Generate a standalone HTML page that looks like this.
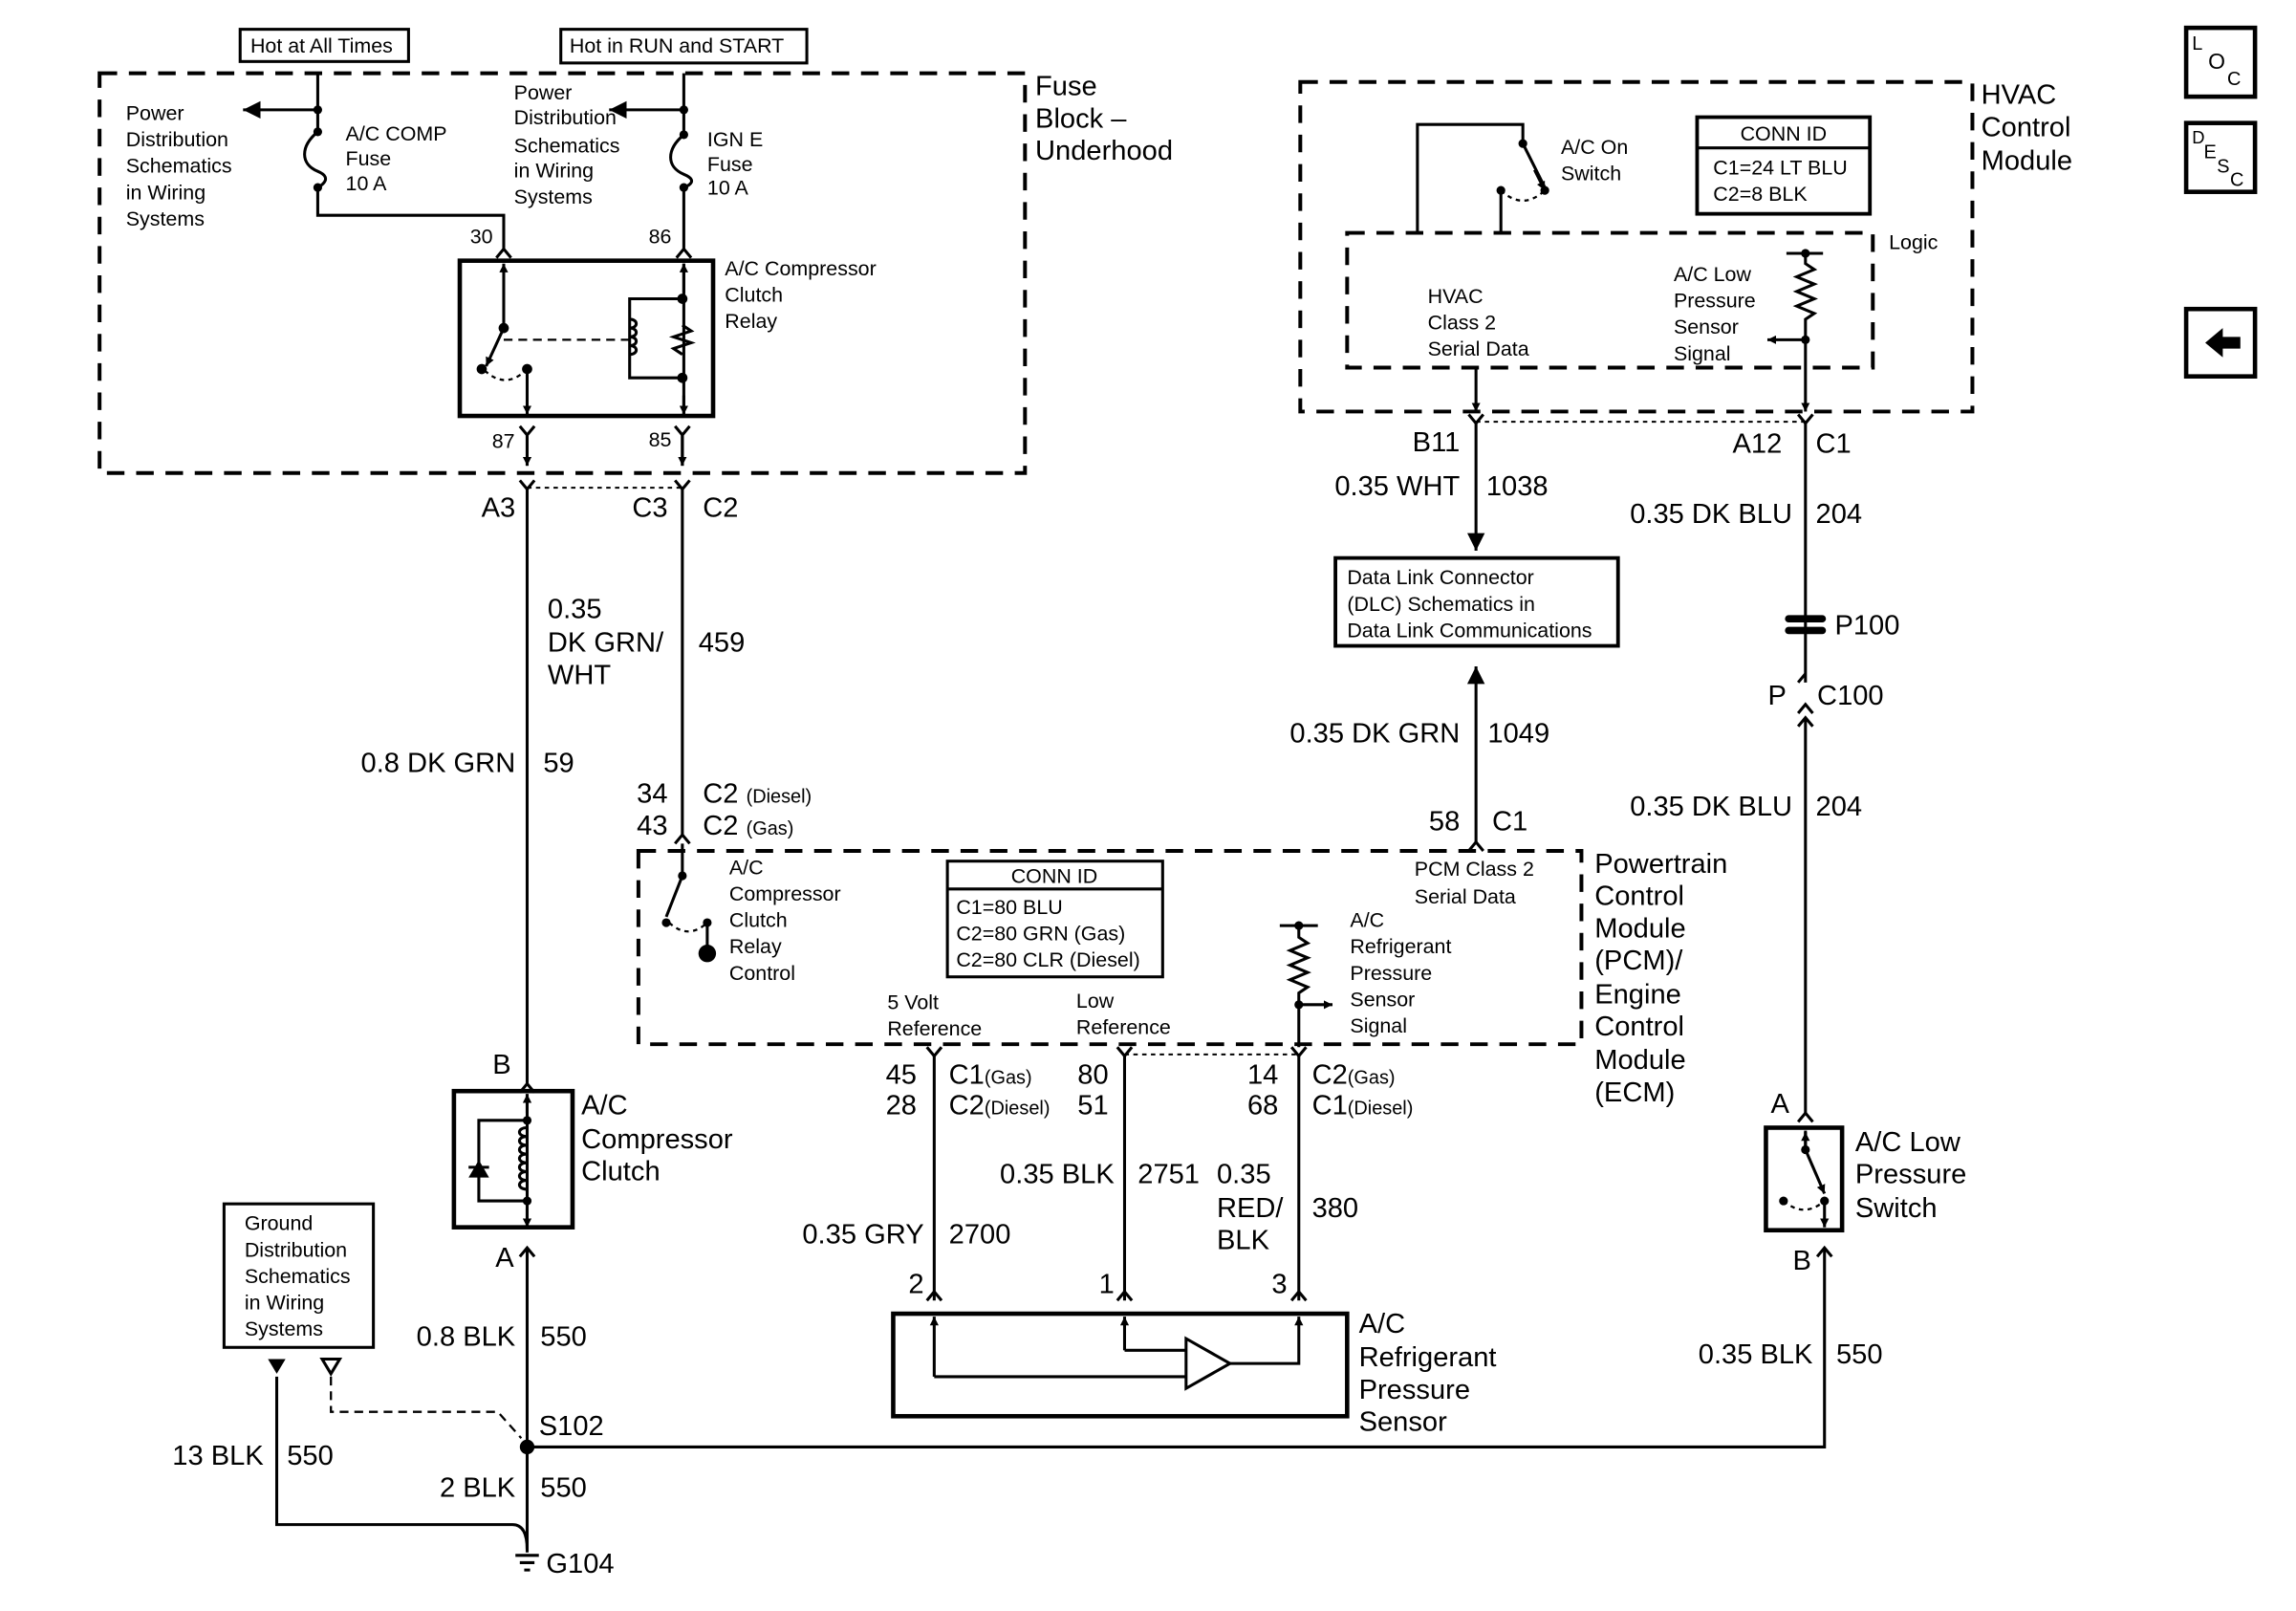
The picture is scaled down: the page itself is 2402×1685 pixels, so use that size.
<!DOCTYPE html>
<html><head><meta charset="utf-8"><style>
html,body{margin:0;padding:0;background:#fff}
svg{display:block}
text{font-family:"Liberation Sans",sans-serif;fill:#000}
.s{font-size:14px}.b{font-size:19px}.r{text-anchor:end}.c{text-anchor:middle}
</style></head><body>
<svg width="2402" height="1685" viewBox="0 0 1568 1100" preserveAspectRatio="none" xmlns="http://www.w3.org/2000/svg">
<defs>
<marker id="ah" viewBox="0 0 10 10" refX="10" refY="5" markerWidth="6" markerHeight="6" orient="auto-start-reverse" markerUnits="userSpaceOnUse"><path d="M0,0 L10,5 L0,10 z" fill="#000"/></marker>
<marker id="ab" viewBox="0 0 10 10" refX="10" refY="5" markerWidth="12" markerHeight="12" orient="auto" markerUnits="userSpaceOnUse"><path d="M0,0 L10,5 L0,10 z" fill="#000"/></marker>
</defs>
<g fill="none" stroke="#000" stroke-width="2">
<rect x="164" y="20" width="115" height="22"/>
<rect x="383" y="20" width="168" height="23"/>
<rect x="68" y="50" width="632" height="273" stroke-width="2.6" stroke-dasharray="12,8"/>
<path d="M217,50 V90 M217,128 V147 H344 V170"/>
<path d="M217,90 C205,100 205,112 217,117 C229,122 217,128 217,128"/>
<path d="M217,75 H166" marker-end="url(#ab)"/>
<path d="M467,50 V92 M467,128 V170"/>
<path d="M467,92 C455,102 455,114 467,119 C479,124 467,128 467,128"/>
<path d="M467,75 H416" marker-end="url(#ab)"/>
<path d="M339,176 L344,170 L349,176 M462,176 L467,170 L472,176"/>
<rect x="314" y="178" width="173" height="106" stroke-width="3"/>
<path d="M344,224 V180" marker-end="url(#ah)"/>
<path d="M344,224 L332,250" marker-end="url(#ah)"/>
<path d="M331,253 Q345,266 359,253" stroke-dasharray="3,3" stroke-width="1.5"/>
<path d="M360,252 V283" marker-end="url(#ah)"/>
<path d="M344,232 H430" stroke-dasharray="6,4" stroke-width="1.5"/>
<path d="M467,180 V283" /><path d="M467,200 V180" marker-end="url(#ah)"/><path d="M467,270 V283" marker-end="url(#ah)"/>
<path d="M466,204 H430 V258 H466"/>
<path d="M430,218 c6,0 6,6 0,6 c6,0 6,6 0,6 c6,0 6,6 0,6 c6,0 6,6 0,6"/>
<path d="M466,222 l6,4 l-12,4 l12,4 l-12,4 l6,4"/>
<path d="M355,291 L360,297 L365,291 M360,297 V318 M461,291 L466,297 L471,291 M466,297 V318"/>
<path d="M360,297 V318" marker-end="url(#ah)"/><path d="M466,297 V318" marker-end="url(#ah)"/>
<path d="M355,328 L360,334 L365,328 M461,328 L466,334 L471,328"/>
<path d="M360,333 H466" stroke-dasharray="3,3" stroke-width="1.3"/>
<path d="M360,334 V740 M466,334 V570"/>
<path d="M461,576 L466,570 L471,576"/>
<rect x="436" y="581" width="644" height="132" stroke-width="2.6" stroke-dasharray="12,8"/>
<path d="M466,576 V598 L455,626"/>
<path d="M457,630 Q470,642 483,630" stroke-dasharray="3,3" stroke-width="1.5"/>
<path d="M483,630 V651"/>
<rect x="647" y="588" width="147" height="79"/><path d="M647,607 H794"/>
<path d="M874,632 H900 M887,632 V640 l6,4 l-12,5 l12,5 l-12,5 l12,5 l-12,5 l12,5 l-6,4 V715"/>
<path d="M887,686 H910" marker-end="url(#ah)"/>
<path d="M1008,575 V455" marker-end="url(#ab)"/>
<path d="M1003,581 L1008,575 L1013,581"/>
<path d="M633,715 L638,721 L643,715 M763,715 L768,721 L773,715 M882,715 L887,721 L892,715"/>
<path d="M768,720 H887" stroke-dasharray="3,3" stroke-width="1.3"/>
<path d="M638,721 V888 M768,721 V888 M887,721 V888"/>
<path d="M633,888 L638,882 L643,888 M763,888 L768,882 L773,888 M882,888 L887,882 L892,888"/>
<rect x="610" y="897" width="310" height="70" stroke-width="3"/>
<path d="M638,940 V899" marker-end="url(#ah)"/><path d="M638,940 H810"/>
<path d="M768,922 V899" marker-end="url(#ah)"/><path d="M768,922 H810"/>
<path d="M810,914 V948 L840,931 Z"/>
<path d="M840,931 H887 V899" marker-end="url(#ah)"/>
<path d="M355,746 L360,740 L365,746"/>
<rect x="310" y="745" width="81" height="93" stroke-width="3"/>
<path d="M360,747 V838"/><path d="M360,760 V747" marker-end="url(#ah)"/><path d="M360,825 V838" marker-end="url(#ah)"/>
<path d="M360,765 H327 V820 H360"/>
<path d="M360,770 c-7,0 -7,6 0,6 c-7,0 -7,6 0,6 c-7,0 -7,6 0,6 c-7,0 -7,6 0,6 c-7,0 -7,6 0,6 c-7,0 -7,6 0,6 c-7,0 -7,6 0,6"/>
<path d="M320,797 H334"/>
<path d="M355,858 L360,852 L365,858 M360,852 V1060"/>
<rect x="153" y="822" width="102" height="98"/>
<path d="M189,940 V1041 H350 Q360,1041 360,1058"/>
<path d="M226,940 V964 H340 L356,982" stroke-dasharray="6,4" stroke-width="1.5"/>
<path d="M360,988 H1246 V852"/>
<path d="M1241,858 L1246,852 L1251,858"/>
<path d="M352,1062 H368 M355,1067 H365 M358,1072 H362"/>
<rect x="888" y="56" width="459" height="225" stroke-width="2.6" stroke-dasharray="12,8"/>
<rect x="920" y="159" width="359" height="92" stroke-width="2.6" stroke-dasharray="12,8"/>
<path d="M968,159 V85 H1040 V98 L1055,128" />
<path d="M1048,116 L1055,130" marker-end="url(#ah)"/>
<path d="M1025,130 Q1040,144 1055,130" stroke-dasharray="3,3" stroke-width="1.5"/>
<path d="M1025,130 V159"/>
<rect x="1159" y="80" width="118" height="66" stroke-width="2.5"/><path d="M1159,101 H1277"/>
<path d="M1220,173 H1245 M1233,173 V180 l6,4 l-12,5 l12,5 l-12,5 l12,5 l-12,5 l12,5 l-6,4 V232"/>
<path d="M1233,232 H1207" marker-end="url(#ah)"/>
<path d="M1233,232 V281" marker-end="url(#ah)"/>
<path d="M1008,251 V281" marker-end="url(#ah)"/>
<path d="M1003,283 L1008,289 L1013,283 M1228,283 L1233,289 L1238,283"/>
<path d="M1008,288 H1233" stroke-dasharray="3,3" stroke-width="1.3"/>
<path d="M1008,289 V376" marker-end="url(#ab)"/>
<rect x="912" y="381" width="193" height="60" stroke-width="2.5"/>
<path d="M1233,289 V466 M1228,466 L1233,460"/>
<path d="M1228,496 L1233,490 L1238,496 M1233,490 V760"/>
<path d="M1228,487 L1233,481 L1238,487"/>
<path d="M1228,766 L1233,760 L1238,766"/>
<rect x="1206" y="770" width="52" height="70" stroke-width="3"/>
<path d="M1233,772 V785" /><path d="M1233,785 L1246,815" marker-end="url(#ah)"/>
<path d="M1233,785 V773" marker-end="url(#ah)"/>
<path d="M1246,820 V838" marker-end="url(#ah)"/>
<path d="M1218,820 Q1232,832 1246,820" stroke-dasharray="3,3" stroke-width="1.5"/>
<rect x="1493" y="19" width="47" height="47" stroke-width="3"/>
<rect x="1493" y="84" width="47" height="47" stroke-width="3"/>
<rect x="1493" y="211" width="47" height="46" stroke-width="3"/>
</g>
<g fill="#000">
<circle cx="217" cy="75" r="3"/><circle cx="217" cy="90" r="3"/><circle cx="217" cy="128" r="3"/>
<circle cx="467" cy="75" r="3"/><circle cx="467" cy="92" r="3"/><circle cx="467" cy="128" r="3"/>
<circle cx="344" cy="224" r="3.5"/><circle cx="329" cy="252" r="3.5"/><circle cx="360" cy="252" r="3.5"/>
<circle cx="466" cy="204" r="3.5"/><circle cx="466" cy="258" r="3.5"/>
<circle cx="466" cy="598" r="3"/><circle cx="455" cy="630" r="3"/><circle cx="483" cy="630" r="3"/>
<circle cx="483" cy="651" r="6"/>
<circle cx="887" cy="632" r="3"/><circle cx="887" cy="686" r="3"/>
<circle cx="360" cy="765" r="3"/><circle cx="360" cy="820" r="3"/>
<path d="M320,804 L334,804 L327,792 Z"/>
<path d="M183,928 H195 L189,938 Z"/><path d="M220,928 H232 L226,938 Z" fill="none" stroke="#000" stroke-width="2"/>
<circle cx="360" cy="988" r="5"/>
<circle cx="1040" cy="98" r="3"/><circle cx="1055" cy="130" r="3"/><circle cx="1025" cy="130" r="3"/>
<circle cx="1233" cy="173" r="3"/><circle cx="1233" cy="232" r="3"/>
<rect x="1219" y="420" width="28" height="5" rx="2.5"/><rect x="1219" y="428" width="28" height="5" rx="2.5"/>
<circle cx="1233" cy="785" r="3"/><circle cx="1218" cy="820" r="3"/><circle cx="1246" cy="820" r="3"/>
<path d="M1506,234 L1518,224 V230 H1530 V238 H1518 V244 Z"/>
</g>
<g class="s">
<text x="171" y="36">Hot at All Times</text>
<text x="389" y="36">Hot in RUN and START</text>
<text x="86" y="82">Power</text><text x="86" y="100">Distribution</text><text x="86" y="118">Schematics</text><text x="86" y="136">in Wiring</text><text x="86" y="154">Systems</text>
<text x="236" y="96">A/C COMP</text><text x="236" y="113">Fuse</text><text x="236" y="130">10 A</text>
<text x="351" y="68">Power</text><text x="351" y="85">Distribution</text><text x="351" y="104">Schematics</text><text x="351" y="121">in Wiring</text><text x="351" y="139">Systems</text>
<text x="483" y="100">IGN E</text><text x="483" y="117">Fuse</text><text x="483" y="133">10 A</text>
<text x="321" y="166">30</text><text x="443" y="166">86</text><text x="336" y="306">87</text><text x="443" y="305">85</text>
<text x="495" y="188">A/C Compressor</text><text x="495" y="206">Clutch</text><text x="495" y="224">Relay</text>
<text x="498" y="597">A/C</text><text x="498" y="615">Compressor</text><text x="498" y="633">Clutch</text><text x="498" y="651">Relay</text><text x="498" y="669">Control</text>
<text x="720" y="603" class="c">CONN ID</text><text x="653" y="624">C1=80 BLU</text><text x="653" y="642">C2=80 GRN (Gas)</text><text x="653" y="660">C2=80 CLR (Diesel)</text>
<text x="966" y="598">PCM Class 2</text><text x="966" y="617">Serial Data</text>
<text x="922" y="633">A/C</text><text x="922" y="651">Refrigerant</text><text x="922" y="669">Pressure</text><text x="922" y="687">Sensor</text><text x="922" y="705">Signal</text>
<text x="606" y="689">5 Volt</text><text x="606" y="707">Reference</text><text x="735" y="688">Low</text><text x="735" y="706">Reference</text>
<text x="167" y="840">Ground</text><text x="167" y="858">Distribution</text><text x="167" y="876">Schematics</text><text x="167" y="894">in Wiring</text><text x="167" y="912">Systems</text>
<text x="1066" y="105">A/C On</text><text x="1066" y="123">Switch</text>
<text x="1218" y="96" class="c">CONN ID</text><text x="1170" y="119">C1=24 LT BLU</text><text x="1170" y="137">C2=8 BLK</text>
<text x="1290" y="170">Logic</text>
<text x="975" y="207">HVAC</text><text x="975" y="225">Class 2</text><text x="975" y="243">Serial Data</text>
<text x="1143" y="192">A/C Low</text><text x="1143" y="210">Pressure</text><text x="1143" y="228">Sensor</text><text x="1143" y="246">Signal</text>
<text x="920" y="399">Data Link Connector</text><text x="920" y="417">(DLC) Schematics in</text><text x="920" y="435">Data Link Communications</text>
<text x="1497" y="34" style="font-size:13px">L</text><text x="1508" y="47" style="font-size:15px">O</text><text x="1521" y="58" style="font-size:13px">C</text>
<text x="1497" y="98" style="font-size:12px">D</text><text x="1505" y="108" style="font-size:13px">E</text><text x="1514" y="118" style="font-size:13px">S</text><text x="1523" y="127" style="font-size:13px">C</text>
</g>
<g class="b">
<text x="707" y="65">Fuse</text><text x="707" y="87">Block –</text><text x="707" y="109">Underhood</text>
<text x="352" y="353" class="r">A3</text><text x="456" y="353" class="r">C3</text><text x="480" y="353">C2</text>
<text x="374" y="422">0.35</text><text x="374" y="445">DK GRN/</text><text x="374" y="467">WHT</text><text x="477" y="445">459</text>
<text x="352" y="527" class="r">0.8 DK GRN</text><text x="371" y="527">59</text>
<text x="456" y="548" class="r">34</text><text x="480" y="548">C2 <tspan style="font-size:13px">(Diesel)</tspan></text>
<text x="456" y="570" class="r">43</text><text x="480" y="570">C2 <tspan style="font-size:13px">(Gas)</tspan></text>
<text x="1089" y="596">Powertrain</text><text x="1089" y="618">Control</text><text x="1089" y="640">Module</text><text x="1089" y="662">(PCM)/</text><text x="1089" y="685">Engine</text><text x="1089" y="707">Control</text><text x="1089" y="730">Module</text><text x="1089" y="752">(ECM)</text>
<text x="997" y="507" class="r">0.35 DK GRN</text><text x="1016" y="507">1049</text>
<text x="997" y="567" class="r">58</text><text x="1019" y="567">C1</text>
<text x="626" y="740" class="r">45</text><text x="626" y="761" class="r">28</text>
<text x="648" y="740">C1<tspan style="font-size:13px">(Gas)</tspan></text><text x="648" y="761">C2<tspan style="font-size:13px">(Diesel)</tspan></text>
<text x="757" y="740" class="r">80</text><text x="757" y="761" class="r">51</text>
<text x="873" y="740" class="r">14</text><text x="873" y="761" class="r">68</text>
<text x="896" y="740">C2<tspan style="font-size:13px">(Gas)</tspan></text><text x="896" y="761">C1<tspan style="font-size:13px">(Diesel)</tspan></text>
<text x="761" y="808" class="r">0.35 BLK</text><text x="777" y="808">2751</text>
<text x="831" y="808">0.35</text><text x="831" y="831">RED/</text><text x="831" y="853">BLK</text><text x="896" y="831">380</text>
<text x="631" y="849" class="r">0.35 GRY</text><text x="648" y="849">2700</text>
<text x="631" y="883" class="r">2</text><text x="761" y="883" class="r">1</text><text x="879" y="883" class="r">3</text>
<text x="928" y="910">A/C</text><text x="928" y="933">Refrigerant</text><text x="928" y="955">Pressure</text><text x="928" y="977">Sensor</text>
<text x="349" y="733" class="r">B</text><text x="351" y="865" class="r">A</text>
<text x="397" y="761">A/C</text><text x="397" y="784">Compressor</text><text x="397" y="806">Clutch</text>
<text x="352" y="919" class="r">0.8 BLK</text><text x="369" y="919">550</text>
<text x="368" y="980">S102</text>
<text x="180" y="1000" class="r">13 BLK</text><text x="196" y="1000">550</text>
<text x="352" y="1022" class="r">2 BLK</text><text x="369" y="1022">550</text>
<text x="373" y="1074">G104</text>
<text x="1353" y="71">HVAC</text><text x="1353" y="93">Control</text><text x="1353" y="116">Module</text>
<text x="997" y="308" class="r">B11</text><text x="1217" y="309" class="r">A12</text><text x="1240" y="309">C1</text>
<text x="997" y="338" class="r">0.35 WHT</text><text x="1015" y="338">1038</text>
<text x="1224" y="357" class="r">0.35 DK BLU</text><text x="1240" y="357">204</text>
<text x="1253" y="433">P100</text>
<text x="1220" y="481" class="r">P</text><text x="1241" y="481">C100</text>
<text x="1224" y="557" class="r">0.35 DK BLU</text><text x="1240" y="557">204</text>
<text x="1222" y="760" class="r">A</text>
<text x="1267" y="786">A/C Low</text><text x="1267" y="808">Pressure</text><text x="1267" y="831">Switch</text>
<text x="1237" y="867" class="r">B</text>
<text x="1238" y="931" class="r">0.35 BLK</text><text x="1254" y="931">550</text>
</g>
</svg>
</body></html>
